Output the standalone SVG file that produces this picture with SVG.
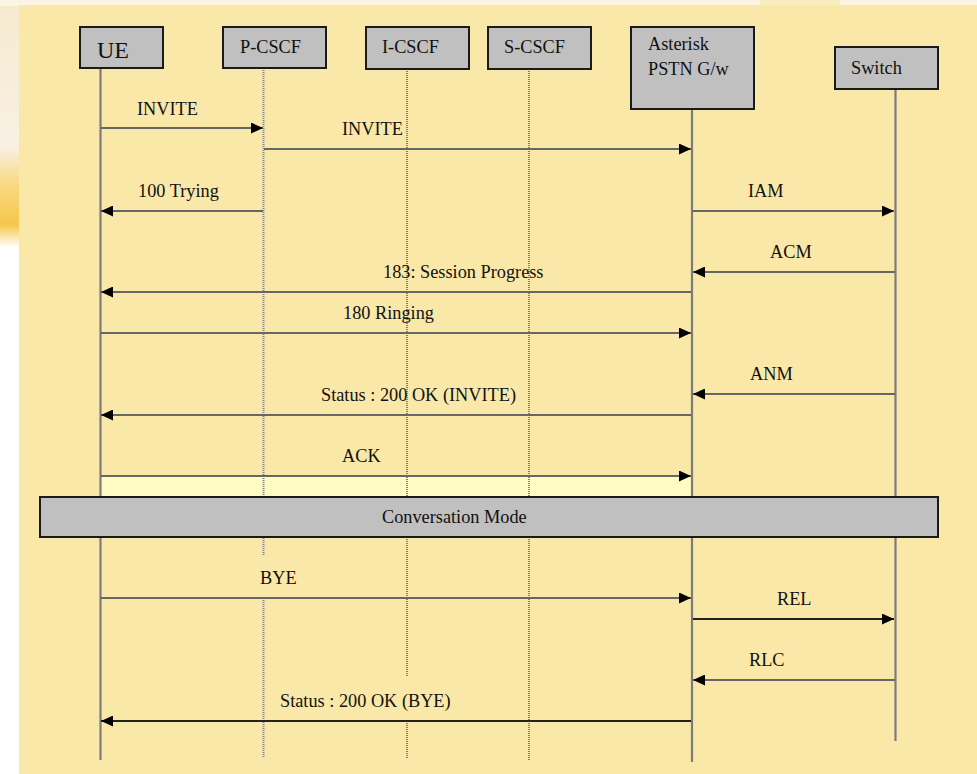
<svg xmlns="http://www.w3.org/2000/svg" width="977" height="774" viewBox="0 0 977 774">
<defs>
<style>
.lbl{font-family:"Liberation Serif","Times New Roman",serif;font-size:18.3px;fill:#111}
.box{fill:#C0C0C0;stroke:#1a1a1a;stroke-width:2}
.life{stroke:#7c7c7c;stroke-width:2.2;fill:none}
.dot{stroke:#808080;stroke-width:2;stroke-dasharray:1 1;fill:none}
.msg{stroke:#666;stroke-width:2;fill:none;marker-end:url(#ah)}
.msgd{stroke:#222;stroke-width:2;fill:none;marker-end:url(#ah)}
</style>
<marker id="ah" markerUnits="userSpaceOnUse" markerWidth="13" markerHeight="11" refX="12" refY="5.5" orient="auto">
<path d="M0,0 L12,5.5 L0,11 z" fill="#000"/>
</marker>
<linearGradient id="lg" x1="0" y1="0" x2="0" y2="1">
<stop offset="0" stop-color="#F6EAD0"/>
<stop offset="0.19" stop-color="#F8F0E2"/>
<stop offset="0.24" stop-color="#F9D880"/>
<stop offset="0.29" stop-color="#F5C84A"/>
<stop offset="0.32" stop-color="#FFFFFF"/>
<stop offset="1" stop-color="#FFFFFF"/>
</linearGradient>
</defs>
<rect x="0" y="0" width="977" height="774" fill="#FFFFFF"/>
<rect x="0" y="0" width="20" height="774" fill="url(#lg)"/>
<rect x="0" y="0" width="977" height="6" fill="#FBF4E4"/>
<rect x="760" y="0" width="80" height="6" fill="#FAEDC0"/>
<rect x="19" y="5" width="958" height="769" fill="#F9E8A8"/>
<rect x="100" y="476" width="592" height="21" fill="#FFFCC2"/>

<g id="lifelines">
<line class="life" x1="100.5" y1="68" x2="100.5" y2="760"/>
<line class="dot" x1="263.5" y1="68" x2="263.5" y2="555"/>
<line class="dot" x1="263.5" y1="598" x2="263.5" y2="758"/>
<line class="dot" x1="407" y1="69" x2="407" y2="677"/>
<line class="dot" x1="407" y1="723" x2="407" y2="759"/>
<line class="dot" x1="529" y1="69" x2="529" y2="760"/>
<line class="life" x1="692" y1="109" x2="692" y2="762"/>
<line class="life" x1="895.5" y1="89" x2="895.5" y2="741"/>
</g>

<g id="UE"><rect class="box" x="80" y="27" width="83" height="41"/><text class="lbl" x="97" y="58" style="font-size:24px">UE</text></g>
<g id="P-CSCF"><rect class="box" x="223" y="27" width="103" height="41"/><text class="lbl" x="240" y="53">P-CSCF</text></g>
<g id="I-CSCF"><rect class="box" x="366" y="27" width="103" height="42"/><text class="lbl" x="382" y="53">I-CSCF</text></g>
<g id="S-CSCF"><rect class="box" x="488" y="27" width="103" height="42"/><text class="lbl" x="504" y="53">S-CSCF</text></g>
<g id="Asterisk"><rect class="box" x="631" y="27" width="123" height="82"/><text class="lbl" x="648" y="50">Asterisk</text><text class="lbl" x="648" y="75">PSTN G/w</text></g>
<g id="Switch"><rect class="box" x="835" y="47" width="103" height="42"/><text class="lbl" x="851" y="74">Switch</text></g>
<g id="conversation"><rect class="box" x="40" y="497" width="898" height="40"/><text class="lbl" x="382" y="523">Conversation Mode</text></g>

<g id="connectors">
<line class="msg" x1="101" y1="128" x2="263" y2="128"/>
<line class="msg" x1="264" y1="149" x2="691" y2="149"/>
<line class="msg" x1="263" y1="211" x2="101" y2="211"/>
<line class="msg" x1="693" y1="211" x2="894" y2="211"/>
<line class="msg" x1="895" y1="272" x2="693" y2="272"/>
<line class="msg" x1="691" y1="292" x2="101" y2="292"/>
<line class="msg" x1="101" y1="333" x2="691" y2="333"/>
<line class="msg" x1="895" y1="394" x2="693" y2="394"/>
<line class="msg" x1="691" y1="415" x2="101" y2="415"/>
<line class="msg" x1="101" y1="476" x2="691" y2="476"/>
<line class="msg" x1="101" y1="598" x2="691" y2="598"/>
<line class="msgd" x1="693" y1="619" x2="894" y2="619"/>
<line class="msg" x1="895" y1="680" x2="693" y2="680"/>
<line class="msgd" x1="691" y1="721" x2="101" y2="721"/>
</g>

<g id="labels">
<text class="lbl" x="137" y="115">INVITE</text>
<text class="lbl" x="342" y="135">INVITE</text>
<text class="lbl" x="138" y="197">100 Trying</text>
<text class="lbl" x="748" y="197">IAM</text>
<text class="lbl" x="770" y="258">ACM</text>
<text class="lbl" x="383" y="278">183: Session Progress</text>
<text class="lbl" x="343" y="319">180 Ringing</text>
<text class="lbl" x="750" y="380">ANM</text>
<text class="lbl" x="321" y="401">Status : 200 OK (INVITE)</text>
<text class="lbl" x="342" y="462">ACK</text>
<text class="lbl" x="260" y="584">BYE</text>
<text class="lbl" x="777" y="605">REL</text>
<text class="lbl" x="749" y="666">RLC</text>
<text class="lbl" x="280" y="707">Status : 200 OK (BYE)</text>
</g>
</svg>
